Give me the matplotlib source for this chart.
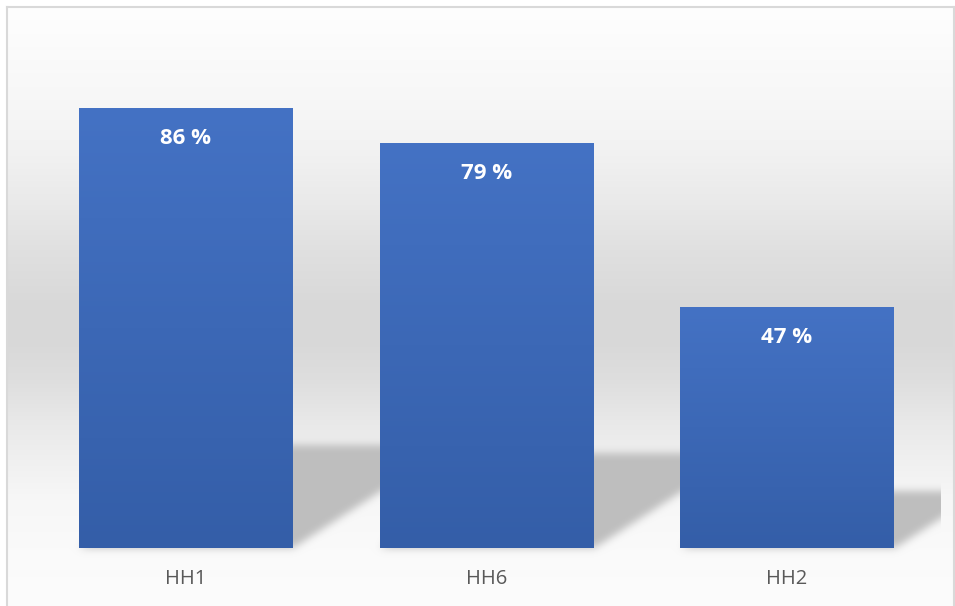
import numpy as np
import matplotlib
matplotlib.use("Agg")
import matplotlib.pyplot as plt
from matplotlib.colors import to_rgb
from matplotlib.lines import Line2D

# ---- data ----
categories = ["HH1", "HH6", "HH2"]
values = [86, 79, 47]
value_labels = ["86 %", "79 %", "47 %"]

W, H, DPI = 955, 606, 100
fig = plt.figure(figsize=(W / DPI, H / DPI), dpi=DPI)

# plot area
ax = fig.add_axes([35.75 / W, 58 / H, 901.5 / W, 511.6 / H], zorder=1)
ax.set_xlim(-0.5, len(categories) - 0.5)
ax.set_ylim(0, 100)
ax.patch.set_alpha(0)
for s in ax.spines.values():
    s.set_visible(False)
ax.set_yticks([])
ax.set_xticks([])

x = np.arange(len(categories))
bar_w = 0.712
bars = ax.bar(x, values, width=bar_w, color="#3d68b8", zorder=2)

# ---- chart-area background: vertical grey band gradient ----
stops_y = np.array([0, 7, 60, 100, 150, 200, 250, 300, 340, 380, 420, 460, 500, 548, 606])
stops_v = np.array([255, 254, 250, 247, 242, 234, 224, 217, 216, 222, 232, 240, 247, 250, 252]) / 255
rows = np.interp(np.arange(H) + 0.5, stops_y, stops_v)
bg = np.repeat(rows[:, None], W, axis=1)
bg_rgb = np.dstack([bg] * 3)

# ---- perspective shadows cast behind each bar ----
yy, xx = np.mgrid[0:H, 0:W]
Xd = xx + 0.5
Yd = H - (yy + 0.5)          # display coords, origin bottom-left
shadow_k = 0.235             # shadow height relative to bar height
slope = 1.55                 # horizontal skew per pixel of height
mask = np.zeros((H, W))
for b in bars:
    (xl, y0), = ax.transData.transform([(b.get_x(), 0)])
    (xr, y1), = ax.transData.transform([(b.get_x() + b.get_width(), b.get_height())])
    ytop = y0 + shadow_k * (y1 - y0)
    sh = slope * (Yd - y0)
    inside = (Yd >= y0) & (Yd <= ytop) & (Xd >= xl + sh) & (Xd <= xr + sh)
    mask = np.maximum(mask, inside.astype(float))


def blur(a, sigma):
    r = int(3 * sigma)
    t = np.arange(-r, r + 1)
    k = np.exp(-t ** 2 / (2 * sigma ** 2))
    k /= k.sum()
    a = np.apply_along_axis(lambda v: np.convolve(v, k, mode="same"), 0, a)
    a = np.apply_along_axis(lambda v: np.convolve(v, k, mode="same"), 1, a)
    return a


mask = blur(mask, 4.0)
# shadows are cut off at the right edge of the plot area
(xmax_px, _), = ax.transData.transform([(ax.get_xlim()[1], 0)])
mask[:, int(xmax_px + 3):] = 0
shadow_col = np.array(to_rgb("#bebebe"))
bg_rgb = bg_rgb * (1 - mask[..., None]) + shadow_col * mask[..., None]

# white outside the chart border
bg_rgb[:7, :, :] = 1
bg_rgb[:, :7, :] = 1
bg_rgb[:, 954:, :] = 1

bgax = fig.add_axes([0, 0, 1, 1], zorder=-10)
bgax.set_axis_off()
bgax.imshow(bg_rgb, extent=(0, 1, 0, 1), aspect="auto", interpolation="nearest")
bgax.set_xlim(0, 1)
bgax.set_ylim(0, 1)

# chart border
bc = "#d9d9d9"
fig.add_artist(Line2D([7 / W, 7 / W], [-0.01, 1 - 7 / H], color=bc, lw=1.5, transform=fig.transFigure))
fig.add_artist(Line2D([7 / W, 953.5 / W], [1 - 7 / H, 1 - 7 / H], color=bc, lw=1.5, transform=fig.transFigure))
fig.add_artist(Line2D([953.5 / W, 953.5 / W], [-0.01, 1 - 7 / H], color=bc, lw=1.5, transform=fig.transFigure))

# ---- gradient fill for bars ----
top_c = np.array(to_rgb("#4472c4"))
bot_c = np.array(to_rgb("#345ea8"))
grad = np.linspace(0, 1, 256)[:, None]
grad_img = top_c * (1 - grad[..., None]) + bot_c * grad[..., None]
for b in bars:
    x0 = b.get_x()
    ax.imshow(grad_img, extent=(x0, x0 + b.get_width(), 0, b.get_height()),
              aspect="auto", zorder=3, interpolation="bilinear")
ax.set_xlim(-0.5, len(categories) - 0.5)
ax.set_ylim(0, 100)

# ---- value labels and category labels ----
for xi, v, lab in zip(x, values, value_labels):
    ax.annotate(lab, (xi, v), xytext=(0, -30), textcoords="offset pixels",
                ha="center", va="center", color="white", fontsize=16,
                fontweight="bold", family="Open Sans", zorder=5)
for xi, cat in zip(x, categories):
    ax.annotate(cat, (xi, 0), xytext=(0, -31), textcoords="offset pixels",
                ha="center", va="center", color="#595959", fontsize=14.5,
                family="Open Sans", annotation_clip=False, zorder=5)

fig.savefig("out.png", dpi=DPI)
